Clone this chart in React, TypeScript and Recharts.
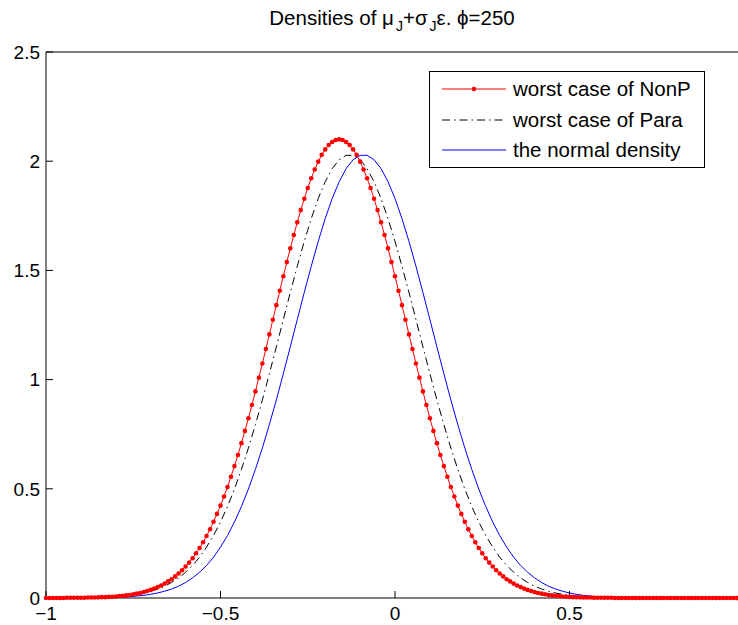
import React from "react";
import { LineChart, Line, XAxis, YAxis, Legend } from "recharts";

const FONT = '"Liberation Sans", Arial, Helvetica, sans-serif';

// x grid starts at -1; the NonP curve is sampled every 0.01, the others every 0.02
const X_START = -1;
const NONP_STEP = 0.01;
const CURVE_STEP = 0.02;

// worst case of NonP (red, with markers)
const nonpValues = [
  0, 0, 0, 0, 0, 0, 0.001, 0.001, 0.001, 0.001,
  0.001, 0.001, 0.002, 0.002, 0.002, 0.003, 0.004, 0.004, 0.005, 0.006,
  0.007, 0.009, 0.01, 0.012, 0.014, 0.017, 0.02, 0.023, 0.027, 0.032,
  0.037, 0.043, 0.05, 0.057, 0.066, 0.076, 0.086, 0.099, 0.112, 0.127,
  0.144, 0.162, 0.182, 0.205, 0.229, 0.255, 0.284, 0.315, 0.349, 0.385,
  0.423, 0.465, 0.508, 0.555, 0.604, 0.655, 0.709, 0.765, 0.823, 0.884,
  0.946, 1.009, 1.074, 1.14, 1.207, 1.274, 1.341, 1.407, 1.473, 1.538,
  1.601, 1.662, 1.72, 1.776, 1.828, 1.877, 1.922, 1.962, 1.998, 2.029,
  2.054, 2.074, 2.088, 2.097, 2.1,
  2.097, 2.088, 2.074, 2.054, 2.029, 1.998, 1.962, 1.922, 1.877, 1.828,
  1.776, 1.72, 1.662, 1.601, 1.538, 1.473, 1.407, 1.341, 1.274, 1.207,
  1.14, 1.074, 1.009, 0.946, 0.884, 0.823, 0.765, 0.709, 0.655, 0.604,
  0.555, 0.508, 0.465, 0.423, 0.385, 0.349, 0.315, 0.284, 0.255, 0.229,
  0.205, 0.182, 0.162, 0.144, 0.127, 0.112, 0.099, 0.086, 0.076, 0.066,
  0.057, 0.05, 0.043, 0.037, 0.032, 0.027, 0.023, 0.02, 0.017, 0.014,
  0.012, 0.01, 0.009, 0.007, 0.006, 0.005, 0.004, 0.004, 0.003, 0.002,
  0.002, 0.002, 0.001, 0.001, 0.001, 0.001, 0.001, 0.001,
  0, 0, 0, 0, 0, 0, 0, 0, 0, 0,
  0, 0, 0, 0, 0, 0, 0, 0, 0, 0,
  0, 0, 0, 0, 0, 0, 0, 0, 0, 0,
  0, 0, 0, 0, 0, 0, 0, 0,
];

// worst case of Para (black dash-dot)
const paraValues = [
  0, 0, 0, 0, 0.001, 0.001, 0.001, 0.002, 0.003, 0.004,
  0.006, 0.009, 0.012, 0.017, 0.023, 0.031, 0.041, 0.054, 0.071, 0.092,
  0.118, 0.149, 0.187, 0.233, 0.286, 0.348, 0.419, 0.499, 0.589, 0.687,
  0.794, 0.907, 1.027, 1.15, 1.275, 1.399, 1.519, 1.633, 1.737, 1.829,
  1.906, 1.966, 2.007, 2.027,
  2.027, 2.007, 1.966, 1.906, 1.829, 1.737, 1.633, 1.519, 1.399, 1.275,
  1.15, 1.027, 0.907, 0.794, 0.687, 0.589, 0.499, 0.419, 0.348, 0.286,
  0.233, 0.187, 0.149, 0.118, 0.092, 0.071, 0.054, 0.041, 0.031, 0.023,
  0.017, 0.012, 0.009, 0.006, 0.004, 0.003, 0.002, 0.001, 0.001, 0.001,
  0, 0, 0, 0, 0, 0, 0, 0, 0, 0,
  0, 0, 0, 0, 0, 0, 0,
];

// the normal density (blue)
const normalValues = [
  0, 0, 0, 0, 0, 0,
  0.001, 0.001, 0.001, 0.002, 0.003, 0.004, 0.006, 0.009, 0.012, 0.017,
  0.023, 0.031, 0.041, 0.054, 0.071, 0.092, 0.118, 0.149, 0.187, 0.233,
  0.286, 0.348, 0.419, 0.499, 0.589, 0.687, 0.794, 0.907, 1.027, 1.15,
  1.275, 1.399, 1.519, 1.633, 1.737, 1.829, 1.906, 1.966, 2.007, 2.027,
  2.027, 2.007, 1.966, 1.906, 1.829, 1.737, 1.633, 1.519, 1.399, 1.275,
  1.15, 1.027, 0.907, 0.794, 0.687, 0.589, 0.499, 0.419, 0.348, 0.286,
  0.233, 0.187, 0.149, 0.118, 0.092, 0.071, 0.054, 0.041, 0.031, 0.023,
  0.017, 0.012, 0.009, 0.006, 0.004, 0.003, 0.002, 0.001, 0.001, 0.001,
  0, 0, 0, 0, 0, 0, 0, 0, 0, 0,
  0, 0, 0, 0, 0,
];

const xTicks = [-1, -0.5, 0, 0.5, 1];
const yTicks = [0, 0.5, 1, 1.5, 2, 2.5];

const seriesNames = ["worst case of NonP", "worst case of Para", "the normal density"];

const toPoints = (values: number[], step: number) =>
  values.map((y, i) => ({ x: +(X_START + i * step).toFixed(2), y }));

const nonpData = toPoints(nonpValues, NONP_STEP);
const paraData = toPoints(paraValues, CURVE_STEP);
const normalData = toPoints(normalValues, CURVE_STEP);

const fmt = (v: number) => String(v).replace("-", "\u2212");
const blank = () => "";

const DASH_DOT = "8 4 1.5 4";
const tickStyle = { fill: "#000", fontSize: 19, fontFamily: FONT };
const lineStyle = { stroke: "#000", strokeWidth: 1 };

function MatlabLegend() {
  const rows = [
    { y: 18, color: "#ff0000", dash: undefined, dot: true },
    { y: 49, color: "#000", dash: DASH_DOT, dot: false },
    { y: 79, color: "#0000ff", dash: undefined, dot: false },
  ];
  return (
    <svg width={276} height={97} style={{ display: "block" }}>
      <rect x={0.5} y={0.5} width={275} height={96} fill="#fff" stroke="#000" />
      {rows.map((r, i) => (
        <g key={i}>
          <line x1={13} x2={77} y1={r.y} y2={r.y} stroke={r.color} strokeDasharray={r.dash} />
          {r.dot && <circle cx={45} cy={r.y} r={2.3} fill={r.color} />}
          <text x={84} y={r.y + 7} fontSize={20.5} fontFamily={FONT} fill="#000">
            {seriesNames[i]}
          </text>
        </g>
      ))}
    </svg>
  );
}

export default function App() {
  return (
    <div
      style={{
        position: "fixed",
        left: 0,
        top: 0,
        width: 738,
        height: 625,
        overflow: "hidden",
        background: "#fff",
        fontFamily: FONT,
      }}
    >
      <svg width={738} height={45} style={{ position: "absolute", left: 0, top: 0 }}>
        <text x={392} y={25} textAnchor="middle" fontSize={20.5} fontFamily={FONT} fill="#000">
          Densities of μ
          <tspan fontSize={14} dx={2} dy={6}>J</tspan>
          <tspan dy={-6}>+σ</tspan>
          <tspan fontSize={14} dx={2} dy={6}>J</tspan>
          <tspan dy={-6}>ε. ϕ=250</tspan>
        </text>
      </svg>
      <LineChart width={770} height={625} margin={{ top: 42, right: 16, bottom: 0, left: 0 }}>
        <XAxis
          type="number"
          dataKey="x"
          domain={[-1, 1]}
          ticks={xTicks}
          interval={0}
          height={27}
          tickSize={-7}
          tickMargin={16}
          tick={tickStyle}
          tickFormatter={fmt}
          axisLine={lineStyle}
          tickLine={lineStyle}
        />
        <XAxis
          xAxisId="top"
          orientation="top"
          type="number"
          domain={[-1, 1]}
          ticks={xTicks}
          interval={0}
          height={10}
          tickSize={-7}
          tickFormatter={blank}
          axisLine={lineStyle}
          tickLine={lineStyle}
        />
        <YAxis
          type="number"
          domain={[0, 2.5]}
          ticks={yTicks}
          interval={0}
          width={46}
          tickSize={-7}
          tickMargin={13}
          tick={tickStyle}
          axisLine={lineStyle}
          tickLine={lineStyle}
        />
        <YAxis
          yAxisId="right"
          orientation="right"
          type="number"
          domain={[0, 2.5]}
          ticks={yTicks}
          interval={0}
          width={10}
          tickSize={-7}
          tickFormatter={blank}
          axisLine={lineStyle}
          tickLine={lineStyle}
        />
        <Legend
          layout="horizontal"
          verticalAlign="middle"
          align="center"
          content={() => <MatlabLegend />}
          wrapperStyle={{ left: 429, top: 71, width: 276, height: 97 }}
        />
        <Line
          data={nonpData}
          dataKey="y"
          name={seriesNames[0]}
          type="linear"
          stroke="#ff0000"
          strokeWidth={1}
          dot={{ r: 2.3, fill: "#ff0000", stroke: "#ff0000", strokeWidth: 0 }}
          isAnimationActive={false}
        />
        <Line
          data={paraData}
          dataKey="y"
          name={seriesNames[1]}
          type="linear"
          stroke="#000"
          strokeWidth={1}
          strokeDasharray={DASH_DOT}
          dot={false}
          isAnimationActive={false}
        />
        <Line
          data={normalData}
          dataKey="y"
          name={seriesNames[2]}
          type="linear"
          stroke="#0000ff"
          strokeWidth={1}
          dot={false}
          isAnimationActive={false}
        />
      </LineChart>
    </div>
  );
}
